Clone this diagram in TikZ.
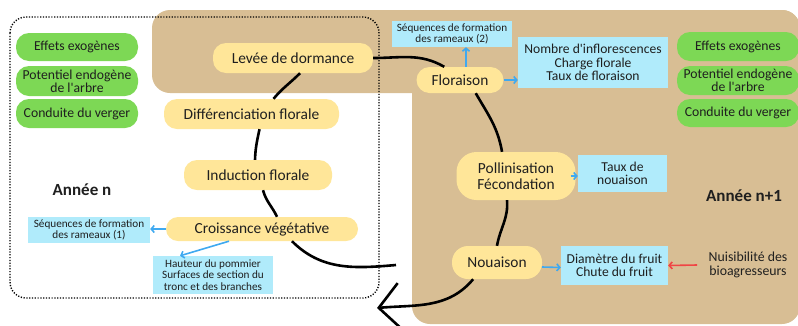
\documentclass[tikz,border=0pt]{standalone}
\usepackage{fontspec}
\setmainfont{Carlito}[Ligatures=TeXOff]
\usepackage{xcolor}
\usetikzlibrary{arrows.meta}

\definecolor{saison}{HTML}{D8BE94}
\definecolor{stadejaune}{HTML}{FFE699}
\definecolor{facteurvert}{HTML}{7DD855}
\definecolor{mesurebleu}{HTML}{B0EBFB}
\definecolor{flechebleu}{HTML}{3FA9F0}
\definecolor{flecherouge}{HTML}{F04545}

\begin{document}
\begin{tikzpicture}[
  x=1pt,
  y=-1pt,
  text=black!88,
  stage/.style={
    fill=stadejaune,
    rounded corners=13pt,
    inner sep=0pt,
    align=center,
    font=\fontsize{15.4}{15.5}\selectfont
  },
  factor/.style={
    fill=facteurvert,
    rounded corners=13pt,
    inner sep=0pt,
    minimum width=122pt,
    align=center,
    font=\fontsize{13.7}{13.4}\selectfont
  },
  measure/.style={
    fill=mesurebleu,
    inner sep=0pt,
    align=center,
    font=\fontsize{13.6}{13.4}\selectfont
  },
  smallmeasure/.style={
    measure,
    font=\fontsize{11.2}{11.3}\selectfont
  },
  cyclearc/.style={
    line width=2.6pt,
    black
  },
  link/.style={
    -{Straight Barb[length=3pt,width=7pt]},
    line width=1.6pt,
    flechebleu
  }
]
  \useasboundingbox (0,0) rectangle (798,325);
  \fill[saison, rounded corners=18pt] (152,10) rectangle (800,93);
  \fill[saison, rounded corners=18pt] (412,10) rectangle (800,324);
  \draw[line width=1.4pt, dash pattern=on 1.2pt off 1.6pt, rounded corners=16pt]
    (10,17) rectangle (379,298);

  \node[factor, minimum height=28pt] (exon) at (77,47) {Effets exogènes};
  \node[factor, minimum height=30pt] (endon) at (77,81) {Potentiel endogène\\de l'arbre};
  \node[factor, minimum height=29pt] (vergern) at (77,113.5) {Conduite du verger};
  \node[factor, minimum height=29pt] (exonp) at (738,46.5) {Effets exogènes};
  \node[factor, minimum height=29pt] (endonp) at (738,80.5) {Potentiel endogène\\de l'arbre};
  \node[factor, minimum height=28pt] (vergernp) at (738,113) {Conduite du verger};

  \node[stage, minimum width=160pt, minimum height=30pt] (levee) at (293,58) {Levée de dormance};
  \node[stage, minimum width=175pt, minimum height=30pt] (diff) at (251.5,114) {Différenciation florale};
  \node[stage, minimum width=148pt, minimum height=30pt] (induc) at (258,175) {Induction florale};
  \node[stage, minimum width=192pt, minimum height=24pt, rounded corners=12pt] (crois) at (262,229) {Croissance végétative};
  \node[stage, minimum width=87pt, minimum height=26pt] (florai) at (460,80) {Floraison};
  \node[stage, minimum width=119pt, minimum height=48pt, rounded corners=20pt] (polli) at (516,176) {Pollinisation\\Fécondation};
  \node[stage, minimum width=90pt, minimum height=33pt, rounded corners=16pt] (noua) at (497,262.5) {Nouaison};

  \node[smallmeasure, minimum width=120pt, minimum height=26pt] (rameauxb) at (452,34) {Séquences de formation\\des rameaux (2)};
  \node[measure, minimum width=150pt, minimum height=51pt] (nombre) at (593,62.5) {Nombre d'inflorescences\\Charge florale\\Taux de floraison};
  \node[measure, minimum width=89pt, minimum height=37pt] (tauxnou) at (622.5,173.5) {Taux de\\nouaison};
  \node[measure, minimum width=107pt, minimum height=39pt] (diam) at (614.5,265.5) {Diamètre du fruit\\Chute du fruit};
  \node[smallmeasure, minimum width=122pt, minimum height=26pt] (rameauxa) at (89,230) {Séquences de formation\\des rameaux (1)};
  \node[smallmeasure, minimum width=120pt, minimum height=38pt] (hauteur) at (213,275) {Hauteur du pommier\\Surfaces de section du\\tronc et des branches};
  \node[font=\fontsize{13.8}{13.4}\selectfont, align=center] (nuis) at (748,265) {Nuisibilité des\\bioagresseurs};
  \node[font=\bfseries\fontsize{17}{17}\selectfont] (anneen) at (82,190) {Année n};
  \node[font=\bfseries\fontsize{17}{17}\selectfont] (anneenp) at (744,195.5) {Année n+1};

  \draw[link] ([xshift=6pt]florai.north) -- ([xshift=14pt]rameauxb.south);
  \draw[link] (florai.east) -- (nombre.west |- florai.east);
  \draw[link] ([xshift=-5pt]polli.east) -- (tauxnou.west |- polli.east);
  \draw[link] ([yshift=-4.5pt]noua.east) -- ([yshift=-2pt]diam.west);
  \draw[link] (crois.west) -- (rameauxa.east |- crois.west);
  \draw[link] ([xshift=-33pt]crois.south) -- ([xshift=-33pt]hauteur.north);
  \draw[link, flecherouge] ([xshift=-8pt]nuis.west) -- (diam.east);

  \coordinate (suite) at (377,308);
  \coordinate (boucle) at (396,265);
  \draw[cyclearc] (levee.east) to[out=0,in=150] (florai.140);
  \draw[cyclearc] (florai.-40) to[out=-60,in=100] (polli.120);
  \draw[cyclearc] ([xshift=-9pt]polli.south) to[out=-85,in=80] (noua.north);
  \draw[cyclearc, -{Straight Barb[length=21pt,width=46pt]}] (noua.-145) to[out=-130,in=5] (suite);
  \draw[cyclearc] ([xshift=7pt]levee.south) to[out=-135,in=50] ([xshift=22pt]diff.north);
  \draw[cyclearc] ([xshift=8pt]diff.south) to[out=-102,in=88] ([xshift=-3pt]induc.north);
  \draw[cyclearc] ([xshift=5pt]induc.south) to[out=-75,in=115] ([xshift=15pt]crois.north);
  \draw[cyclearc] ([xshift=30pt]crois.south) to[out=-45,in=185] (boucle);
\end{tikzpicture}
\end{document}
